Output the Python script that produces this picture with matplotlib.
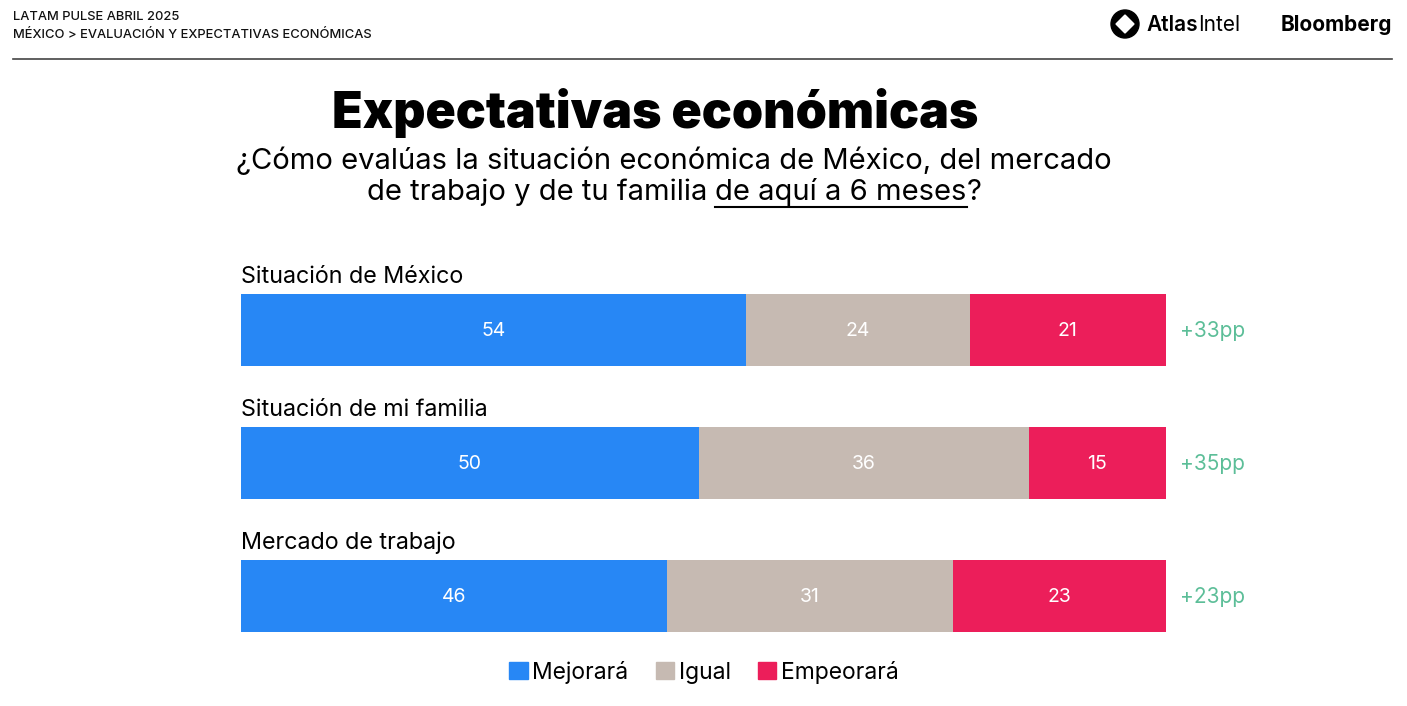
import matplotlib
matplotlib.use("Agg")
import matplotlib.pyplot as plt
from matplotlib.patches import Patch, Circle, Polygon
from matplotlib.lines import Line2D

# data
categories = ["Situación de México", "Situación de mi familia", "Mercado de trabajo"]
series_names = ["Mejorará", "Igual", "Empeorará"]
mejorara = [54, 50, 46]
igual = [24, 36, 31]
empeorara = [21, 15, 23]
net_labels = ["+33pp", "+35pp", "+23pp"]

colors = ["#2787F5", "#C6BAB2", "#EC1E5A"]
net_color = "#5CBE98"

plt.rcParams['font.family'] = ["Inter", 'DejaVu Sans']

W, H = 1407, 706
fig = plt.figure(figsize=(W / 100, H / 100), dpi=100)
renderer = fig.canvas.get_renderer()


def fx(px):
    return px / W


def fy(py):
    return 1 - py / H


def pix(px, py):
    # pixel position (from top-left) in inches for dpi_scale_trans
    return (px / 100, (H - py) / 100)


# header
fig.text(fx(13), fy(17), "LATAM PULSE ABRIL 2025", fontsize=9.3, fontweight='medium', va='center', color="#111111")
fig.text(fx(13), fy(35), "MÉXICO > EVALUACIÓN Y EXPECTATIVAS ECONÓMICAS", fontsize=9.3, fontweight='medium',
         va='center', color="#111111")
fig.add_artist(Line2D([fx(13), fx(1392)], [fy(59), fy(59)], color="#444444", lw=1.2))

# logos
fig.add_artist(Circle(pix(1125, 24), 0.14, transform=fig.dpi_scale_trans, color="black"))
d = 9
fig.add_artist(Polygon([pix(1125, 24 - d), pix(1125 + d, 24), pix(1125, 24 + d), pix(1125 - d, 24)],
                       closed=True, transform=fig.dpi_scale_trans, color="white"))
atlas = fig.text(fx(1146), fy(25), "Atlas", fontsize=15, fontweight='semibold', va='center', color="black")
aw = atlas.get_window_extent(renderer).width
fig.text(fx(1146 + aw + 1), fy(25), "Intel", fontsize=15, va='center', color="black")
fig.text(fx(1392), fy(25), "Bloomberg", fontsize=15, fontweight='bold', va='center', ha='right', color="black")

# title
fig.text(fx(655), fy(113), "Expectativas económicas", fontsize=36, fontweight='black', ha='center', va='center',
         color="black")
fig.text(fx(674), fy(161), "¿Cómo evalúas la situación económica de México, del mercado",
         fontsize=21, ha='center', va='center', color="black")

# second subtitle line with underlined part
parts = ["de trabajo y de tu familia", "de aquí a 6 meses", "?"]
txts = [fig.text(0, fy(192), p, fontsize=21, va='center', color="black") for p in parts]
widths = [t.get_window_extent(renderer).width for t in txts]
a1 = fig.text(0, 0, "a a", fontsize=21)
a2 = fig.text(0, 0, "aa", fontsize=21)
space = a1.get_window_extent(renderer).width - a2.get_window_extent(renderer).width
a1.remove()
a2.remove()
widths[0] += space
total = sum(widths)
x0 = 674 - total / 2
xs = [x0, x0 + widths[0], x0 + widths[0] + widths[1]]
for t, x in zip(txts, xs):
    t.set_x(fx(x))
fig.add_artist(Line2D([fx(xs[1]), fx(xs[1] + widths[1])], [fy(207), fy(207)], color="black", lw=1.5))

# bars
ax = fig.add_axes([fx(241), fy(640), fx(1166) - fx(241), (640 - 260) / H])
ypos = list(range(len(categories)))
totals = [a + b + c for a, b, c in zip(mejorara, igual, empeorara)]
left = [0.0] * len(categories)
for vals, col in zip([mejorara, igual, empeorara], colors):
    shares = [v / t for v, t in zip(vals, totals)]
    ax.barh(ypos, shares, left=left, height=0.54, color=col, edgecolor='none')
    for y, l, s, v in zip(ypos, left, shares, vals):
        ax.text(l + s / 2, y + 0.01, str(v), color="white", fontsize=14, ha='center', va='center')
    left = [l + s for l, s in zip(left, shares)]

for y, cat, net in zip(ypos, categories, net_labels):
    ax.text(0, y - 0.40, cat, fontsize=16.8, ha='left', va='center', color="black")
    ax.text(1.015, y + 0.01, net, fontsize=15, ha='left', va='center', color=net_color)

ax.set_xlim(0, 1)
ax.set_ylim(2 + 44 / 133, -70 / 133)
ax.axis('off')

handles = [Patch(color=c) for c in colors]
fig.legend(handles, series_names, loc='center', bbox_to_anchor=(fx(704), fy(672)), ncol=3,
           frameon=False, fontsize=16.5, handlelength=0.8, handleheight=0.8, handletextpad=0.2,
           columnspacing=1.2)

fig.savefig("out.png", dpi=100, facecolor="white")
